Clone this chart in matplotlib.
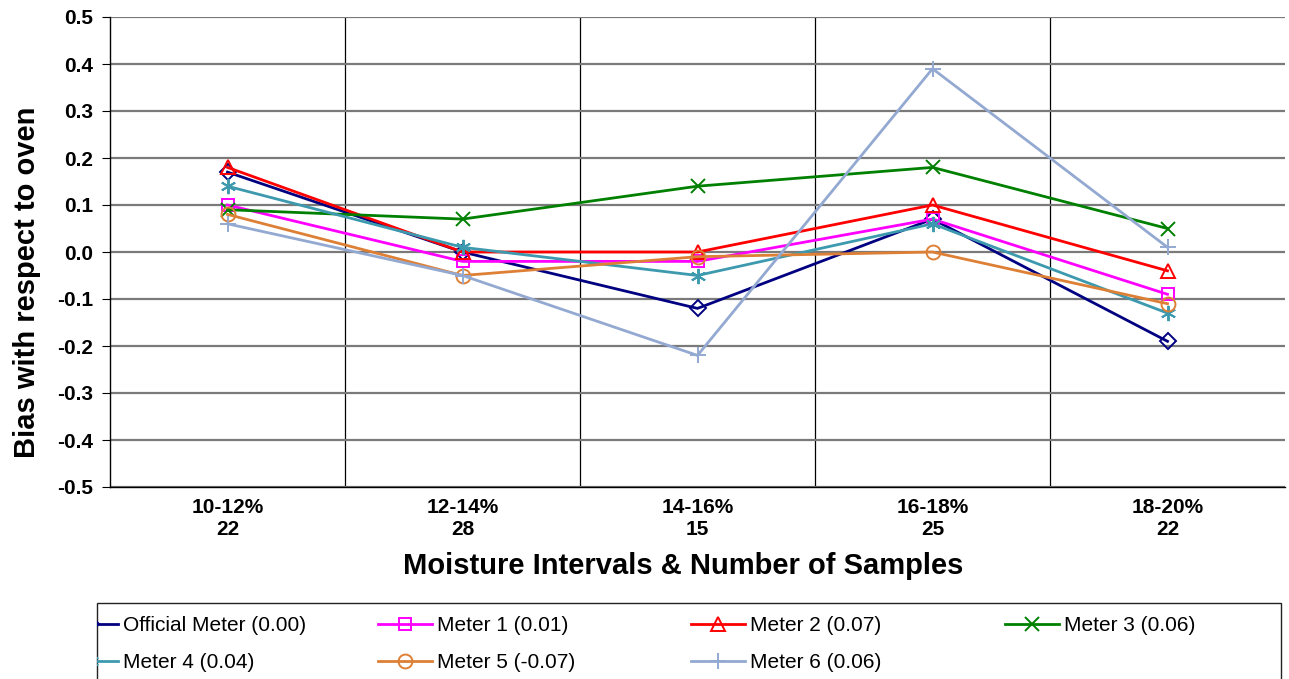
import matplotlib
matplotlib.use("Agg")
import matplotlib.pyplot as plt
from matplotlib.patches import Rectangle

plt.rcParams['font.family'] = ['Liberation Sans', 'DejaVu Sans']

intervals = ['10-12%', '12-14%', '14-16%', '16-18%', '18-20%']
n_samples = [22, 28, 15, 25, 22]

official = [0.17, 0.00, -0.12, 0.07, -0.19]
meter1 = [0.10, -0.02, -0.02, 0.07, -0.09]
meter2 = [0.18, 0.00, 0.00, 0.10, -0.04]
meter3 = [0.09, 0.07, 0.14, 0.18, 0.05]
meter4 = [0.14, 0.01, -0.05, 0.06, -0.13]
meter5 = [0.08, -0.05, -0.01, 0.00, -0.11]
meter6 = [0.06, -0.05, -0.22, 0.39, 0.01]

labels = ['Official Meter (0.00)', 'Meter 1 (0.01)', 'Meter 2 (0.07)', 'Meter 3 (0.06)',
          'Meter 4 (0.04)', 'Meter 5 (-0.07)', 'Meter 6 (0.06)']
series = [official, meter1, meter2, meter3, meter4, meter5, meter6]
colors = ['#000080', '#FF00FF', '#FF0000', '#008000', '#3D9AAE', '#DD8036', '#93A9D1']
markers = ['D', 's', '^', 'x', (6, 2, 0), 'o', '+']
msizes = [8, 9, 10, 10, 11, 10, 11]

W, H = 1289, 679
fig = plt.figure(figsize=(W / 100, H / 100), dpi=100)
ax = fig.add_axes([110 / W, 1 - 487 / H, 1175 / W, 470 / H])

x = list(range(len(intervals)))
lines = []
for vals, lab, c, m, ms in zip(series, labels, colors, markers, msizes):
    ln, = ax.plot(x, vals, color=c, lw=2.0, marker=m, ms=ms, mfc='none', mec=c, mew=1.4, label=lab)
    lines.append(ln)

ax.set_xlim(-0.5, 4.5)
ax.set_ylim(-0.5, 0.5)
ax.set_yticks([i / 10 for i in range(-5, 6)])
ax.set_yticklabels([f'{i / 10:.1f}' for i in range(-5, 6)], fontsize=15, fontweight='bold')
ax.set_xticks(x)
ax.set_xticklabels([f'{a}\n{n}' for a, n in zip(intervals, n_samples)], fontsize=15, fontweight='bold')
ax.tick_params(axis='x', length=0, pad=8)
ax.tick_params(axis='y', length=6, direction='out', pad=6)
ax.set_xticks([0.5, 1.5, 2.5, 3.5], minor=True)
ax.tick_params(axis='x', which='minor', length=0)
ax.grid(True, axis='y', which='major', color='#7a7a7a', lw=1.6)
ax.grid(True, axis='x', which='minor', color='black', lw=0.9)
ax.set_axisbelow(True)
for s in ['left', 'bottom']:
    ax.spines[s].set_color('black')
    ax.spines[s].set_linewidth(1.0)
for s in ['top', 'right']:
    ax.spines[s].set_visible(False)

fig.text(27 / W, 1 - 282 / H, 'Bias with respect to oven', rotation=90, ha='center', va='center',
         fontsize=21, fontweight='bold')
ax.set_xlabel('Moisture Intervals & Number of Samples', fontsize=21, fontweight='bold')
ax.xaxis.set_label_coords(0.4877, -0.138)

# legend frame (bottom runs off the figure)
frame = Rectangle((97 / W, -0.05), (1281 - 97) / W, 1.05 - 603 / H, transform=fig.transFigure,
                  facecolor='white', edgecolor='#222222', lw=1.0, zorder=1)
fig.add_artist(frame)

cols = [[0, 4], [1, 5], [2, 6], [3]]
col_x = [64, 378, 691, 1005]
for idx, cx in zip(cols, col_x):
    leg = fig.legend(handles=[lines[i] for i in idx], loc='upper left',
                     bbox_to_anchor=(cx / W, 1 - 616 / H), frameon=False, fontsize=15,
                     handlelength=2.6, handletextpad=0.25, borderpad=0, borderaxespad=0,
                     labelspacing=0.86)
    leg.set_zorder(2)
    for hl in leg.get_lines():
        hl.set_clip_path(frame)

fig.savefig('out.png', dpi=100)
